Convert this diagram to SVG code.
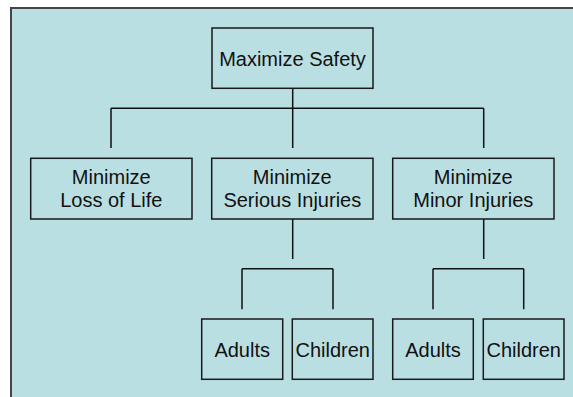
<svg xmlns="http://www.w3.org/2000/svg" width="573" height="397" viewBox="0 0 573 397">
<style>
.bg{fill:#BADFE3;stroke:#444;stroke-width:2}
.box{fill:#BADFE3;stroke:#1a1a1a;stroke-width:1.5}
.ln{fill:none;stroke:#111;stroke-width:1.5}
text{font-family:"Liberation Sans",Arial,sans-serif;font-size:20px;fill:#111;text-anchor:middle}
</style>
<rect class="bg" x="11" y="8" width="600" height="420"/>
<g id="connectors">
<path class="ln" d="M292.7 88V148M111 108.3H483.7M111 108.3V148M483.7 108.3V148"/>
<path class="ln" d="M292.7 219V259M242 268.7H333M242 268.7V309.3M333 268.7V309.3"/>
<path class="ln" d="M483.7 219V259M433 268.7H523.7M433 268.7V309.3M523.7 268.7V309.3"/>
</g>
<g id="maximize-safety"><rect class="box" x="212" y="28" width="161" height="60.3"/><text x="292.5" y="66">Maximize Safety</text></g>
<g id="min-loss-of-life"><rect class="box" x="30.7" y="158.3" width="161.3" height="60.7"/><text x="111.3" y="184">Minimize</text><text x="111.3" y="207.3">Loss of Life</text></g>
<g id="min-serious-injuries"><rect class="box" x="211.7" y="158.3" width="161.3" height="60.7"/><text x="292.3" y="184">Minimize</text><text x="292.3" y="207.3">Serious Injuries</text></g>
<g id="min-minor-injuries"><rect class="box" x="392.7" y="158.3" width="161.3" height="60.7"/><text x="473.3" y="184">Minimize</text><text x="473.3" y="207.3">Minor Injuries</text></g>
<g id="serious-adults"><rect class="box" x="201.7" y="319" width="81" height="60.3"/><text x="242.2" y="357">Adults</text></g>
<g id="serious-children"><rect class="box" x="292.3" y="319" width="80.7" height="60.3"/><text x="332.7" y="357">Children</text></g>
<g id="minor-adults"><rect class="box" x="392.7" y="319" width="80.6" height="60.3"/><text x="433" y="357">Adults</text></g>
<g id="minor-children"><rect class="box" x="483.3" y="319" width="80.7" height="60.3"/><text x="523.7" y="357">Children</text></g>
</svg>
